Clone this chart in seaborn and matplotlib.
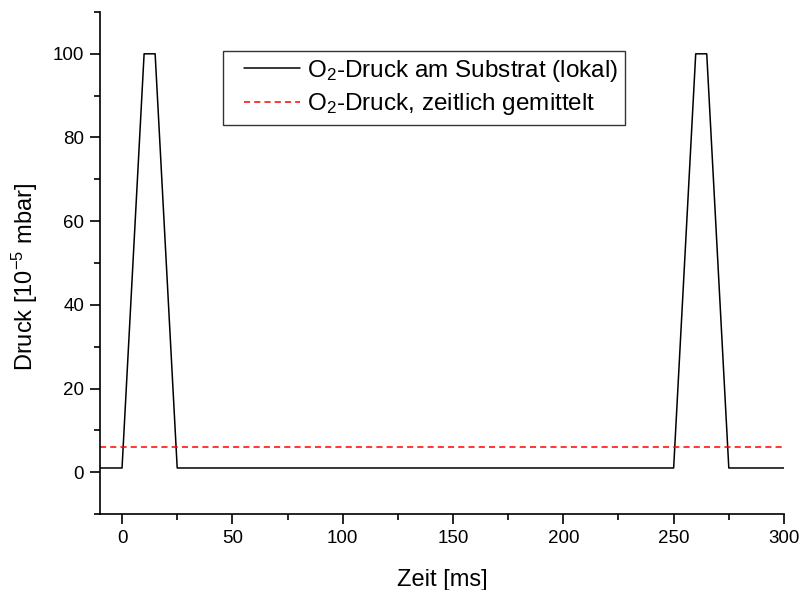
import numpy as np
import pandas as pd
import matplotlib
matplotlib.use("Agg")
import matplotlib.pyplot as plt
import seaborn as sns
from matplotlib.ticker import MultipleLocator
from matplotlib.legend_handler import HandlerLine2D

# Data
zeit = [-10, 0, 10, 15, 25, 250, 260, 265, 275, 300]
druck_lokal = [1, 1, 100, 100, 1, 1, 100, 100, 1, 1]
zeit_mittel = [-10, 300]
druck_mittel = [6, 6]

label_lokal = r"O$_2$-Druck am Substrat (lokal)"
label_mittel = r"O$_2$-Druck, zeitlich gemittelt"

sns.set_style("ticks")
plt.rcParams['font.family'] = ['Liberation Sans', 'DejaVu Sans']
plt.rcParams['mathtext.fontset'] = 'custom'
plt.rcParams['mathtext.rm'] = 'Liberation Sans'
plt.rcParams['mathtext.it'] = 'Liberation Sans'
plt.rcParams['text.color'] = 'black'
plt.rcParams['axes.labelcolor'] = 'black'
plt.rcParams['xtick.color'] = 'black'
plt.rcParams['ytick.color'] = 'black'


class OffsetLineHandler(HandlerLine2D):
    """Legend line starting a bit to the right inside the handle box."""
    def get_xdata(self, legend, xdescent, ydescent, width, height, fontsize):
        off = 0.55 * fontsize
        x = np.array([-xdescent + off, -xdescent + width])
        return x, x


fig = plt.figure(figsize=(8.03, 5.90), dpi=100)
ax = fig.add_axes([0.1245, 0.1288, 0.8518, 0.8509])

df1 = pd.DataFrame({"Zeit": zeit, "Druck": druck_lokal})
df2 = pd.DataFrame({"Zeit": zeit_mittel, "Druck": druck_mittel})
sns.lineplot(data=df1, x="Zeit", y="Druck", ax=ax, color="black", lw=1.1,
             label=label_lokal, sort=False)
sns.lineplot(data=df2, x="Zeit", y="Druck", ax=ax, color="#ff0000", lw=1.1,
             linestyle=(0, (4, 2.7)), label=label_mittel, sort=False)

ax.set_xlim(-10, 300)
ax.set_ylim(-10, 110)
ax.xaxis.set_major_locator(MultipleLocator(50))
ax.xaxis.set_minor_locator(MultipleLocator(25))
ax.yaxis.set_major_locator(MultipleLocator(20))
ax.yaxis.set_minor_locator(MultipleLocator(10))
ax.tick_params(which='major', length=7.5, width=1.2, labelsize=13.5, direction='out',
               color='black', pad=4)
ax.tick_params(which='minor', length=4, width=1.2, direction='out', color='black')
for s in ['top', 'right']:
    ax.spines[s].set_visible(False)
for s in ['left', 'bottom']:
    ax.spines[s].set_linewidth(1.2)
    ax.spines[s].set_color('black')

ax.set_xlabel("Zeit [ms]", fontsize=17, labelpad=16)
ax.set_ylabel(r"Druck [10$^{-5}$ mbar]", fontsize=17)
ax.yaxis.set_label_coords(-0.088, 0.472)

handles, labels = ax.get_legend_handles_labels()
leg = ax.legend(handles, labels, loc='upper left', bbox_to_anchor=(0.18, 0.923),
                fontsize=17.5, frameon=True, fancybox=False, handlelength=2.85,
                handletextpad=0.3, borderpad=0.3, labelspacing=0.3, borderaxespad=0,
                handler_map={h: OffsetLineHandler() for h in handles})
leg.get_frame().set_edgecolor('black')
leg.get_frame().set_linewidth(1.0)

fig.savefig("out.png", dpi=100)
